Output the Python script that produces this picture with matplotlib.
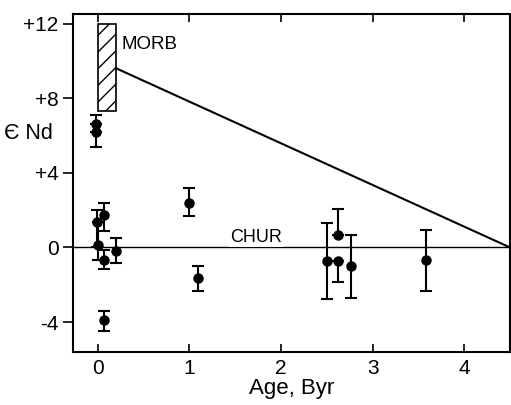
import numpy as np
import matplotlib.pyplot as plt
from matplotlib.patches import Rectangle

plt.rcParams['font.family'] = ['Liberation Sans', 'DejaVu Sans']

# data
age = [-0.02, -0.02, -0.01, 0.07, 0.0, 0.07, 0.2, 0.07, 1.0, 1.09, 2.5, 2.62, 2.62, 2.76, 3.58]
end = [6.6, 6.2, 1.35, 1.75, 0.15, -0.65, -0.2, -3.9, 2.4, -1.65, -0.75, 0.65, -0.75, -1.0, -0.65]
err_lo = [0.0, 0.8, 1.35, 0.85, 0.8, 0.5, 0.65, 0.6, 0.7, 0.7, 2.0, 0.0, 1.1, 1.7, 1.7]
err_hi = [0.5, 0.0, 0.65, 0.65, 1.2, 0.5, 0.7, 0.5, 0.8, 0.65, 2.05, 1.4, 0.0, 1.65, 1.6]

morb_x = [0.0, 0.2]
morb_y = [7.3, 12.0]
evol_x = [0.2, 4.5]
evol_y = [9.6, 0.0]

xticks = [0, 1, 2, 3, 4]
yticks = [-4, 0, 4, 8, 12]
ytick_labels = ['-4', '0', '+4', '+8', '+12']

fig = plt.figure(figsize=(5.11, 4.05), dpi=100)
ax = fig.add_axes([0.143, 0.131, 0.855, 0.834])

ax.plot([-0.27, 4.5], [0, 0], color='black', lw=1.0, zorder=1)
ax.text(1.73, 0.08, 'CHUR', fontsize=13, ha='center', va='bottom',
        bbox=dict(facecolor='white', edgecolor='none', pad=1), zorder=2)

ax.add_patch(Rectangle((morb_x[0], morb_y[0]), morb_x[1] - morb_x[0],
                       morb_y[1] - morb_y[0], facecolor='white',
                       edgecolor='black', hatch='//', lw=1.2, zorder=3))
ax.text(0.26, 10.9, 'MORB', fontsize=13.5, ha='left', va='center')

ax.plot(evol_x, evol_y, color='black', lw=1.5, zorder=3)

ax.errorbar(age, end, yerr=[err_lo, err_hi], fmt='o', color='black',
            ms=6.5, capsize=4, elinewidth=1.5, capthick=1.5, zorder=4)

ax.set_xlim(-0.27, 4.5)
ax.set_ylim(-5.6, 12.5)
ax.set_xticks(xticks)
ax.set_yticks(yticks)
ax.set_yticklabels(ytick_labels)
ax.tick_params(axis='x', direction='in', top=True, labelsize=15, length=6, width=1.2, pad=5)
ax.tick_params(axis='y', direction='out', labelsize=15, length=7, width=1.2)
ax.tick_params(axis='y', which='major', right=True)
for s in ax.spines.values():
    s.set_linewidth(1.5)

ax.set_xlabel('Age, Byr', fontsize=16, labelpad=0)
ax.text(-0.76, 6.1, 'Є Nd', fontsize=15.5, ha='center', va='center')

fig.savefig('out.png', dpi=100)
